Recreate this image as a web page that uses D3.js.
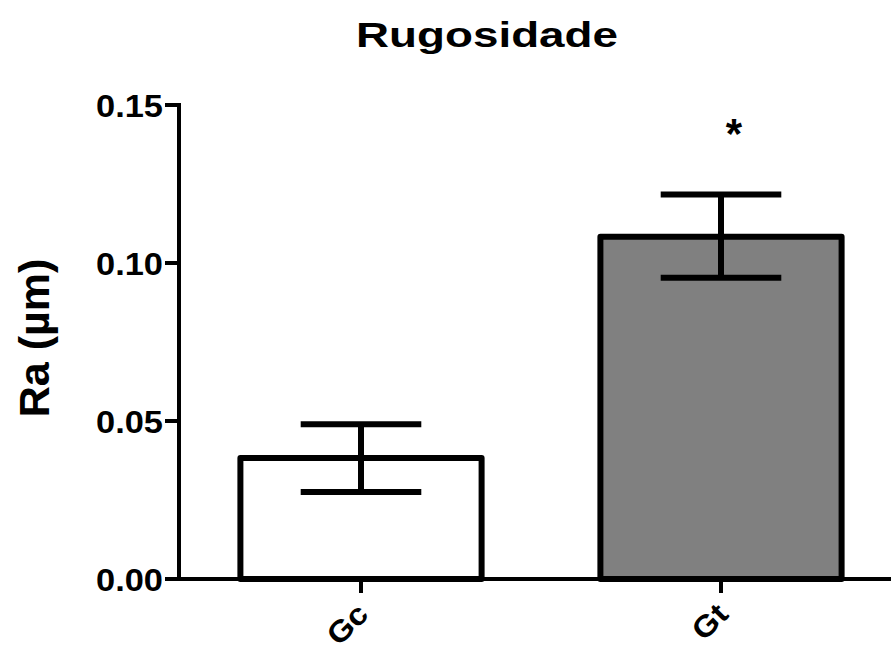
<!DOCTYPE html>
<html>
<head>
<meta charset="utf-8">
<script src="https://cdn.jsdelivr.net/npm/d3@7"></script>
<style>
	body { margin: 0; background: #fff; }
	text { font-family: "Liberation Sans", Arial, sans-serif; font-weight: bold; fill: #000; }
</style>
</head>
<body>
<div id="chart"></div>
<script>
/**
 * Data
 */
let groups = ["Gc", "Gt"];
let means = [0.0383, 0.1083];
let errLow = [0.0275, 0.0953];
let errHigh = [0.0490, 0.1217];
let fills = ["#ffffff", "#808080"];
let yTicks = [0.00, 0.05, 0.10, 0.15];
let marks = ["", "*"];

/**
 * Dimensions
 */
let width = 891;
let height = 652;
let axisX = 179;
let axisY = 579;

let svg = d3.select("#chart").append("svg")
	.attr("width", width)
	.attr("height", height);

// Scales
let x = d3.scaleBand()
	.domain(groups)
	.range([181, 901])
	.paddingInner(0.33)
	.paddingOuter(0.165);

let y = d3.scaleLinear()
	.domain([0, 0.15])
	.range([axisY, 105]);

// Stretch a text horizontally so that it spans the given width
function fitWidth(node, target) {
	let w = node.getComputedTextLength();
	return target / w;
}

// Title
let title = svg.append("text")
	.attr("text-anchor", "middle")
	.attr("font-size", 35)
	.text("Rugosidade");
let tk = fitWidth(title.node(), 262);
title.attr("transform", "translate(487,47) scale(" + tk + ",1)");

// Y axis label
svg.append("text")
	.attr("transform", "translate(49," + 338 + ") rotate(-90)")
	.attr("text-anchor", "middle")
	.attr("font-size", 43)
	.text("Ra (\u00b5m)");

/**
 * Bars
 */
svg.selectAll("rect.bar")
	.data(groups)
	.enter()
	.append("rect")
	.attr("class", "bar")
	.attr("x", function(d) { return x(d); })
	.attr("y", function(d, i) { return y(means[i]); })
	.attr("width", x.bandwidth())
	.attr("height", function(d, i) { return axisY - y(means[i]); })
	.attr("fill", function(d, i) { return fills[i]; })
	.attr("stroke", "#000")
	.attr("stroke-width", 6)
	.attr("stroke-linejoin", "round");

/**
 * Error bars
 */
let err = svg.selectAll("g.err")
	.data(groups)
	.enter()
	.append("g")
	.attr("class", "err")
	.attr("stroke", "#000")
	.attr("stroke-width", 6);

err.append("line")
	.attr("x1", function(d) { return x(d) + x.bandwidth() / 2; })
	.attr("x2", function(d) { return x(d) + x.bandwidth() / 2; })
	.attr("y1", function(d, i) { return y(errLow[i]); })
	.attr("y2", function(d, i) { return y(errHigh[i]); });

[errLow, errHigh].forEach(function(vals) {
	err.append("line")
		.attr("x1", function(d) { return x(d) + x.bandwidth() / 4; })
		.attr("x2", function(d) { return x(d) + x.bandwidth() * 3 / 4; })
		.attr("y1", function(d, i) { return y(vals[i]); })
		.attr("y2", function(d, i) { return y(vals[i]); });
});

// Significance marks
svg.selectAll("text.mark")
	.data(groups)
	.enter()
	.append("text")
	.attr("class", "mark")
	.attr("x", function(d) { return x(d) + x.bandwidth() / 2 + 13; })
	.attr("y", 148)
	.attr("text-anchor", "middle")
	.attr("font-size", 42)
	.text(function(d, i) { return marks[i]; });

/**
 * Axes
 */
let yAxis = svg.append("g");
yAxis.append("line")
	.attr("x1", axisX).attr("x2", axisX)
	.attr("y1", y(0.15) - 2).attr("y2", axisY)
	.attr("stroke", "#000").attr("stroke-width", 4);

yAxis.selectAll("line.tick")
	.data(yTicks)
	.enter()
	.append("line")
	.attr("class", "tick")
	.attr("x1", 165).attr("x2", axisX)
	.attr("y1", function(d) { return y(d); })
	.attr("y2", function(d) { return y(d); })
	.attr("stroke", "#000").attr("stroke-width", 4);

yAxis.selectAll("text")
	.data(yTicks)
	.enter()
	.append("text")
	.attr("text-anchor", "end")
	.attr("font-size", 32)
	.text(function(d) { return d3.format(".2f")(d); })
	.each(function(d) {
		let k = fitWidth(this, 67);
		d3.select(this).attr("transform", "translate(163," + (y(d) + 11.5) + ") scale(" + k + ",1)");
	});

let xAxis = svg.append("g");
xAxis.append("line")
	.attr("x1", axisX - 2).attr("x2", width)
	.attr("y1", axisY).attr("y2", axisY)
	.attr("stroke", "#000").attr("stroke-width", 4);

xAxis.selectAll("line.tick")
	.data(groups)
	.enter()
	.append("line")
	.attr("class", "tick")
	.attr("x1", function(d) { return x(d) + x.bandwidth() / 2; })
	.attr("x2", function(d) { return x(d) + x.bandwidth() / 2; })
	.attr("y1", axisY).attr("y2", 593)
	.attr("stroke", "#000").attr("stroke-width", 4);

// Rotated category labels, kept just inside the bottom edge
xAxis.selectAll("text")
	.data(groups)
	.enter()
	.append("text")
	.attr("transform", function(d) {
		return "translate(" + (x(d) + x.bandwidth() / 2 + 9) + ",616) rotate(-45) scale(1.1,1)";
	})
	.attr("text-anchor", "end")
	.attr("font-size", 30)
	.text(function(d) { return d; });
</script>
</body>
</html>
